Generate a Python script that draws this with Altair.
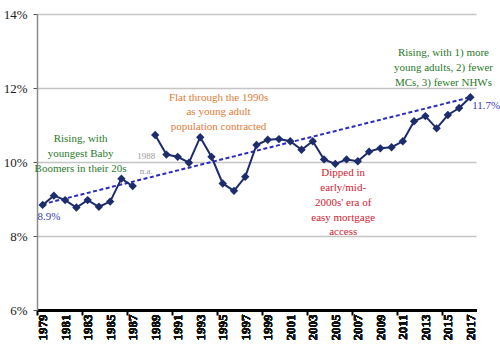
import altair as alt
import pandas as pd

# ---- data ----
years = list(range(1979, 2018))
rates = [8.84, 9.09, 8.97, 8.77, 8.97, 8.79, 8.93, 9.55, 9.35, None,
         10.73, 10.20, 10.14, 9.98, 10.67, 10.14, 9.42, 9.22, 9.60, 10.46,
         10.60, 10.62, 10.56, 10.33, 10.56, 10.07, 9.95, 10.07, 10.02, 10.28,
         10.37, 10.40, 10.56, 11.10, 11.24, 10.91, 11.27, 11.46, 11.75]
trend_years = [1979, 2017]
trend_rates = [8.86, 11.75]

y_ticks = [6, 8, 10, 12, 14]
x_label_years = list(range(1979, 2018, 2))
x_tick_marks = [1978.5 + 4 * i for i in range(10)]

FONT = "Liberation Serif"

df = pd.DataFrame({"year": years, "rate": rates})
df = df.dropna()
df["period"] = ["before 1988" if y < 1988 else "after 1988" for y in df["year"]]
trend = pd.DataFrame({"year": trend_years, "rate": trend_rates})

xscale = alt.Scale(domain=[1978.5, 2017.5], nice=False, zero=False)
yscale = alt.Scale(domain=[6, 14], nice=False, zero=False)

x_label_axis = alt.Axis(
    values=x_label_years, format="d", orient="bottom",
    labelAngle=-90, labelFont=FONT, labelFontSize=13, labelFontWeight="bold",
    labelColor="#111", labelOverlap=False, labelFlush=False, labelBound=False,
    labelPadding=4, ticks=False,
    domainColor="#000", domainWidth=3, grid=False, title=None,
)
x_tick_axis = alt.Axis(
    values=x_tick_marks, orient="bottom", labels=False,
    ticks=True, tickColor="#000", tickWidth=2, tickSize=5,
    domain=False, grid=False, title=None,
)
y_axis = alt.Axis(
    values=y_ticks, labelExpr="datum.value + '%'",
    labelFont=FONT, labelFontSize=13, labelColor="#222", labelPadding=6,
    tickColor="#555", tickSize=4, tickWidth=1,
    domainColor="#8a8a8a", domainWidth=1.5,
    grid=True, gridColor="#c4c4c4", gridWidth=1.5, title=None,
)

line = alt.Chart(df).mark_line(color="#1c2c6c", strokeWidth=2).encode(
    x=alt.X("year:Q", scale=xscale, axis=x_label_axis),
    y=alt.Y("rate:Q", scale=yscale, axis=y_axis),
    detail="period:N",
)
trend_line = alt.Chart(trend).mark_line(color="#2b2bc4", strokeWidth=2,
                                        strokeDash=[4, 2.5]).encode(
    x=alt.X("year:Q", scale=xscale, axis=x_tick_axis),
    y=alt.Y("rate:Q", scale=yscale, axis=y_axis),
)

over = [alt.Chart(df).mark_point(shape="diamond", filled=True, size=70,
                                 color="#1c2c6c", opacity=1).encode(
    x=alt.X("year:Q", scale=xscale, axis=x_label_axis),
    y=alt.Y("rate:Q", scale=yscale, axis=y_axis),
)]

notes = [
    (["Rising, with", "youngest Baby", "Boomers in their 20s"], 1982.37, 10.631, "#2a7a2a", 11, 15, "center"),
    (["1988", "n.a."], 1988.2, 10.163, "#9a9a9a", 9, 15.5, "center"),
    (["Flat through the 1990s", "as young adult", "population contracted"], 1994.63, 11.743, "#e07c36", 11, 14.5, "center"),
    (["Dipped in", "early/mid-", "2000s' era of", "easy mortgage", "access"], 2005.7, 9.691, "#d42030", 11, 14.7, "center"),
    (["Rising, with 1) more", "young adults, 2) fewer", "MCs, 3) fewer NHWs"], 2014.61, 12.943, "#2a7a2a", 11, 14.8, "center"),
    (["8.9%"], 1979.56, 8.526, "#3a3ab4", 11, 14, "center"),
    (["11.7%"], 2017.16, 11.507, "#3a3ab4", 11, 14, "left"),
]

for lines, nx, ny, color, size, lh, align in notes:
    ndf = pd.DataFrame({"year": [nx], "rate": [ny]})
    over.append(
        alt.Chart(ndf).mark_text(text=lines, color=color, font=FONT, fontSize=size,
                                 lineHeight=lh, align=align, baseline="middle").encode(
            x=alt.X("year:Q", scale=xscale, axis=x_label_axis),
            y=alt.Y("rate:Q", scale=yscale, axis=y_axis),
        )
    )

chart = alt.layer(trend_line, line, *over).resolve_axis(x="independent").properties(
    width=439, height=296,
    autosize=alt.AutoSizeParams(type="none"),
    padding={"left": 37, "top": 14, "right": 24, "bottom": 40},
    background="white",
).configure_view(stroke=None)

chart.save("out.html", embed_options={"renderer": "svg", "actions": False})
